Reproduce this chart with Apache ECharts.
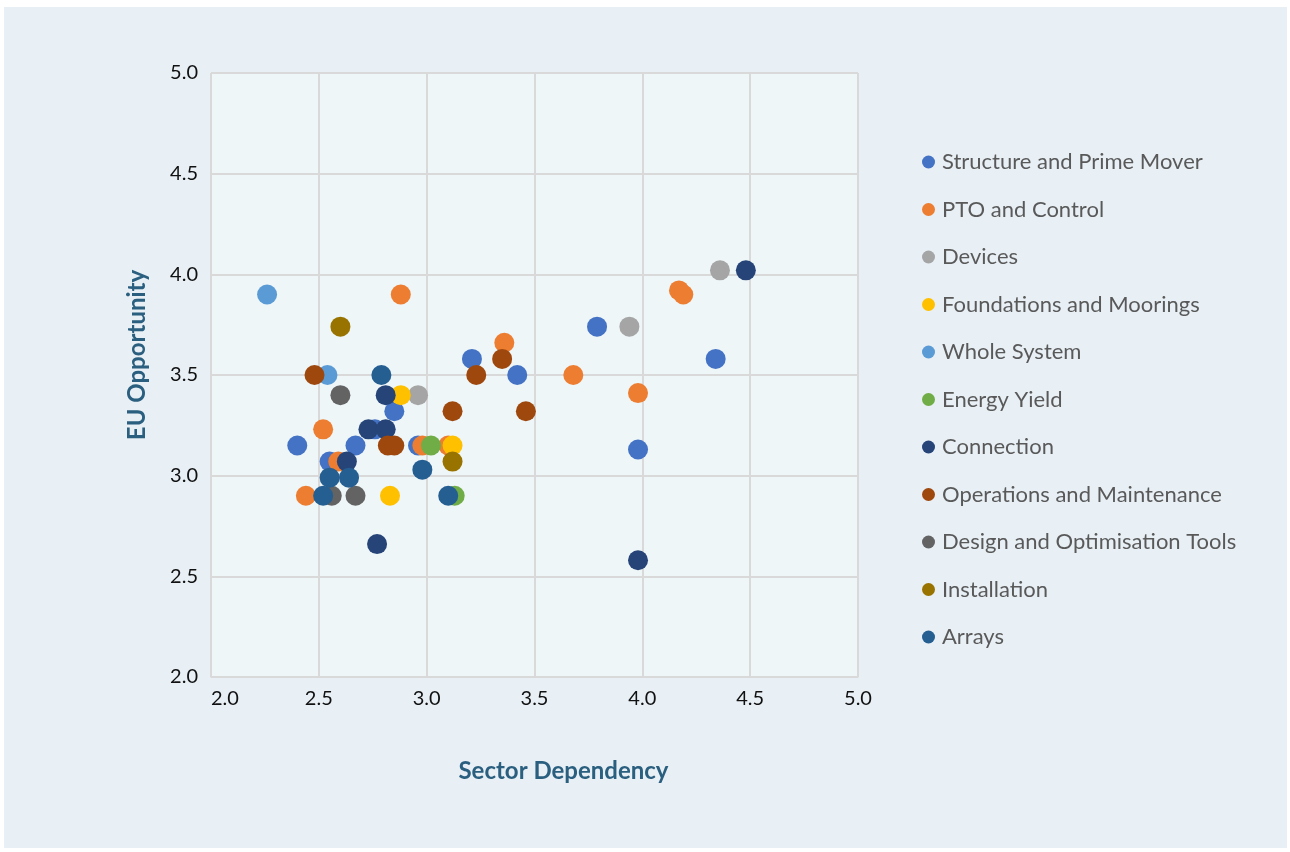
<!DOCTYPE html>
<html>
<head>
<meta charset="utf-8">
<script src="https://cdn.jsdelivr.net/npm/echarts@6/dist/echarts.min.js"></script>
<style>
  html, body { margin: 0; padding: 0; background: #ffffff; width: 1290px; height: 852px; overflow: hidden; }
  #chart { position: absolute; left: 4px; top: 7px; width: 1283px; height: 841px; }
</style>
</head>
<body>
<div id="chart"></div>
<script>
// ---- Data ----
const seriesNames = [
  'Structure and Prime Mover', 'PTO and Control', 'Devices', 'Foundations and Moorings',
  'Whole System', 'Energy Yield', 'Connection', 'Operations and Maintenance',
  'Design and Optimisation Tools', 'Installation', 'Arrays'
];
const seriesColors = ['#4472C4', '#ED7D31', '#A5A5A5', '#FFC000', '#5B9BD5', '#70AD47',
  '#264478', '#9E480E', '#636363', '#997300', '#255E91'];

const structurePrimeMover = [[2.40,3.15],[2.55,3.07],[2.67,3.15],[2.76,3.23],[2.85,3.32],[2.96,3.15],[3.21,3.58],[3.42,3.50],[3.79,3.74],[3.98,3.13],[4.34,3.58]];
const ptoControl = [[2.88,3.90],[3.36,3.66],[2.52,3.23],[2.59,3.07],[2.98,3.15],[3.10,3.15],[2.44,2.90],[3.68,3.50],[3.98,3.41],[4.17,3.92],[4.19,3.90]];
const devices = [[2.96,3.40],[3.94,3.74],[4.36,4.02]];
const foundationsMoorings = [[2.88,3.40],[3.12,3.15],[2.83,2.90]];
const wholeSystem = [[2.26,3.90],[2.54,3.50]];
const energyYield = [[3.02,3.15],[3.13,2.90]];
const connection = [[2.81,3.40],[2.73,3.23],[2.81,3.23],[2.63,3.07],[2.77,2.66],[3.98,2.58],[4.48,4.02]];
const operationsMaintenance = [[2.48,3.50],[3.35,3.58],[3.23,3.50],[3.12,3.32],[3.46,3.32],[2.82,3.15],[2.85,3.15]];
const designTools = [[2.60,3.40],[2.56,2.90],[2.67,2.90]];
const installation = [[2.60,3.74],[3.12,3.07]];
const arrays = [[2.79,3.50],[2.98,3.03],[2.55,2.99],[2.64,2.99],[2.52,2.90],[3.10,2.90]];

const allSeriesData = [structurePrimeMover, ptoControl, devices, foundationsMoorings, wholeSystem,
  energyYield, connection, operationsMaintenance, designTools, installation, arrays];

const xAxisTitle = 'Sector Dependency';
const yAxisTitle = 'EU Opportunity';
const axisMin = 2.0, axisMax = 5.0, axisStep = 0.5;

// ---- Chart ----
const FONT = 'Lato, "Open Sans", sans-serif';
const chart = echarts.init(document.getElementById('chart'), null, { renderer: 'canvas' });

const option = {
  backgroundColor: '#E8F0F6',
  animation: false,
  textStyle: { fontFamily: FONT },
  grid: {
    left: 207, top: 66, width: 647, height: 604,
    show: true, backgroundColor: '#EEF6F8', borderColor: '#D9D9D9', borderWidth: 1
  },
  legend: {
    orient: 'vertical',
    left: 913, top: 139,
    icon: 'circle',
    itemWidth: 13, itemHeight: 13,
    itemGap: 25.5,
    data: seriesNames,
    textStyle: { color: '#595959', fontSize: 22, lineHeight: 20, fontFamily: FONT, padding: [0, 0, 0, 2] }
  },
  xAxis: {
    type: 'value', min: axisMin, max: axisMax, interval: axisStep,
    name: xAxisTitle, nameLocation: 'middle', nameGap: 82,
    nameTextStyle: { color: '#2B5F7F', fontSize: 24, fontWeight: 'bold', fontFamily: FONT, padding: [0, 0, 0, 58] },
    axisLine: { show: true, lineStyle: { color: '#D9D9D9', width: 1 } },
    axisTick: { show: false },
    splitLine: { show: true, lineStyle: { color: '#D9D9D9', width: 2 } },
    axisLabel: {
      color: '#111', fontSize: 20, margin: 12, fontFamily: FONT,
      alignMinLabel: 'left',
      formatter: v => v.toFixed(1)
    }
  },
  yAxis: {
    type: 'value', min: axisMin, max: axisMax, interval: axisStep,
    name: yAxisTitle, nameLocation: 'middle', nameGap: 62,
    nameTextStyle: { color: '#2B5F7F', fontSize: 24, fontWeight: 'bold', fontFamily: FONT, padding: [0, 0, 0, 40] },
    axisLine: { show: true, lineStyle: { color: '#D9D9D9', width: 1 } },
    axisTick: { show: false },
    splitLine: { show: true, lineStyle: { color: '#D9D9D9', width: 2 } },
    axisLabel: { color: '#111', fontSize: 20, margin: 13, fontFamily: FONT, formatter: v => v.toFixed(1) }
  },
  series: seriesNames.map((name, i) => ({
    name: name,
    type: 'scatter',
    data: allSeriesData[i],
    symbol: 'circle',
    symbolSize: 20,
    itemStyle: { color: seriesColors[i], opacity: 1 },
    emphasis: { disabled: true }
  }))
};
chart.setOption(option);
</script>
</body>
</html>
